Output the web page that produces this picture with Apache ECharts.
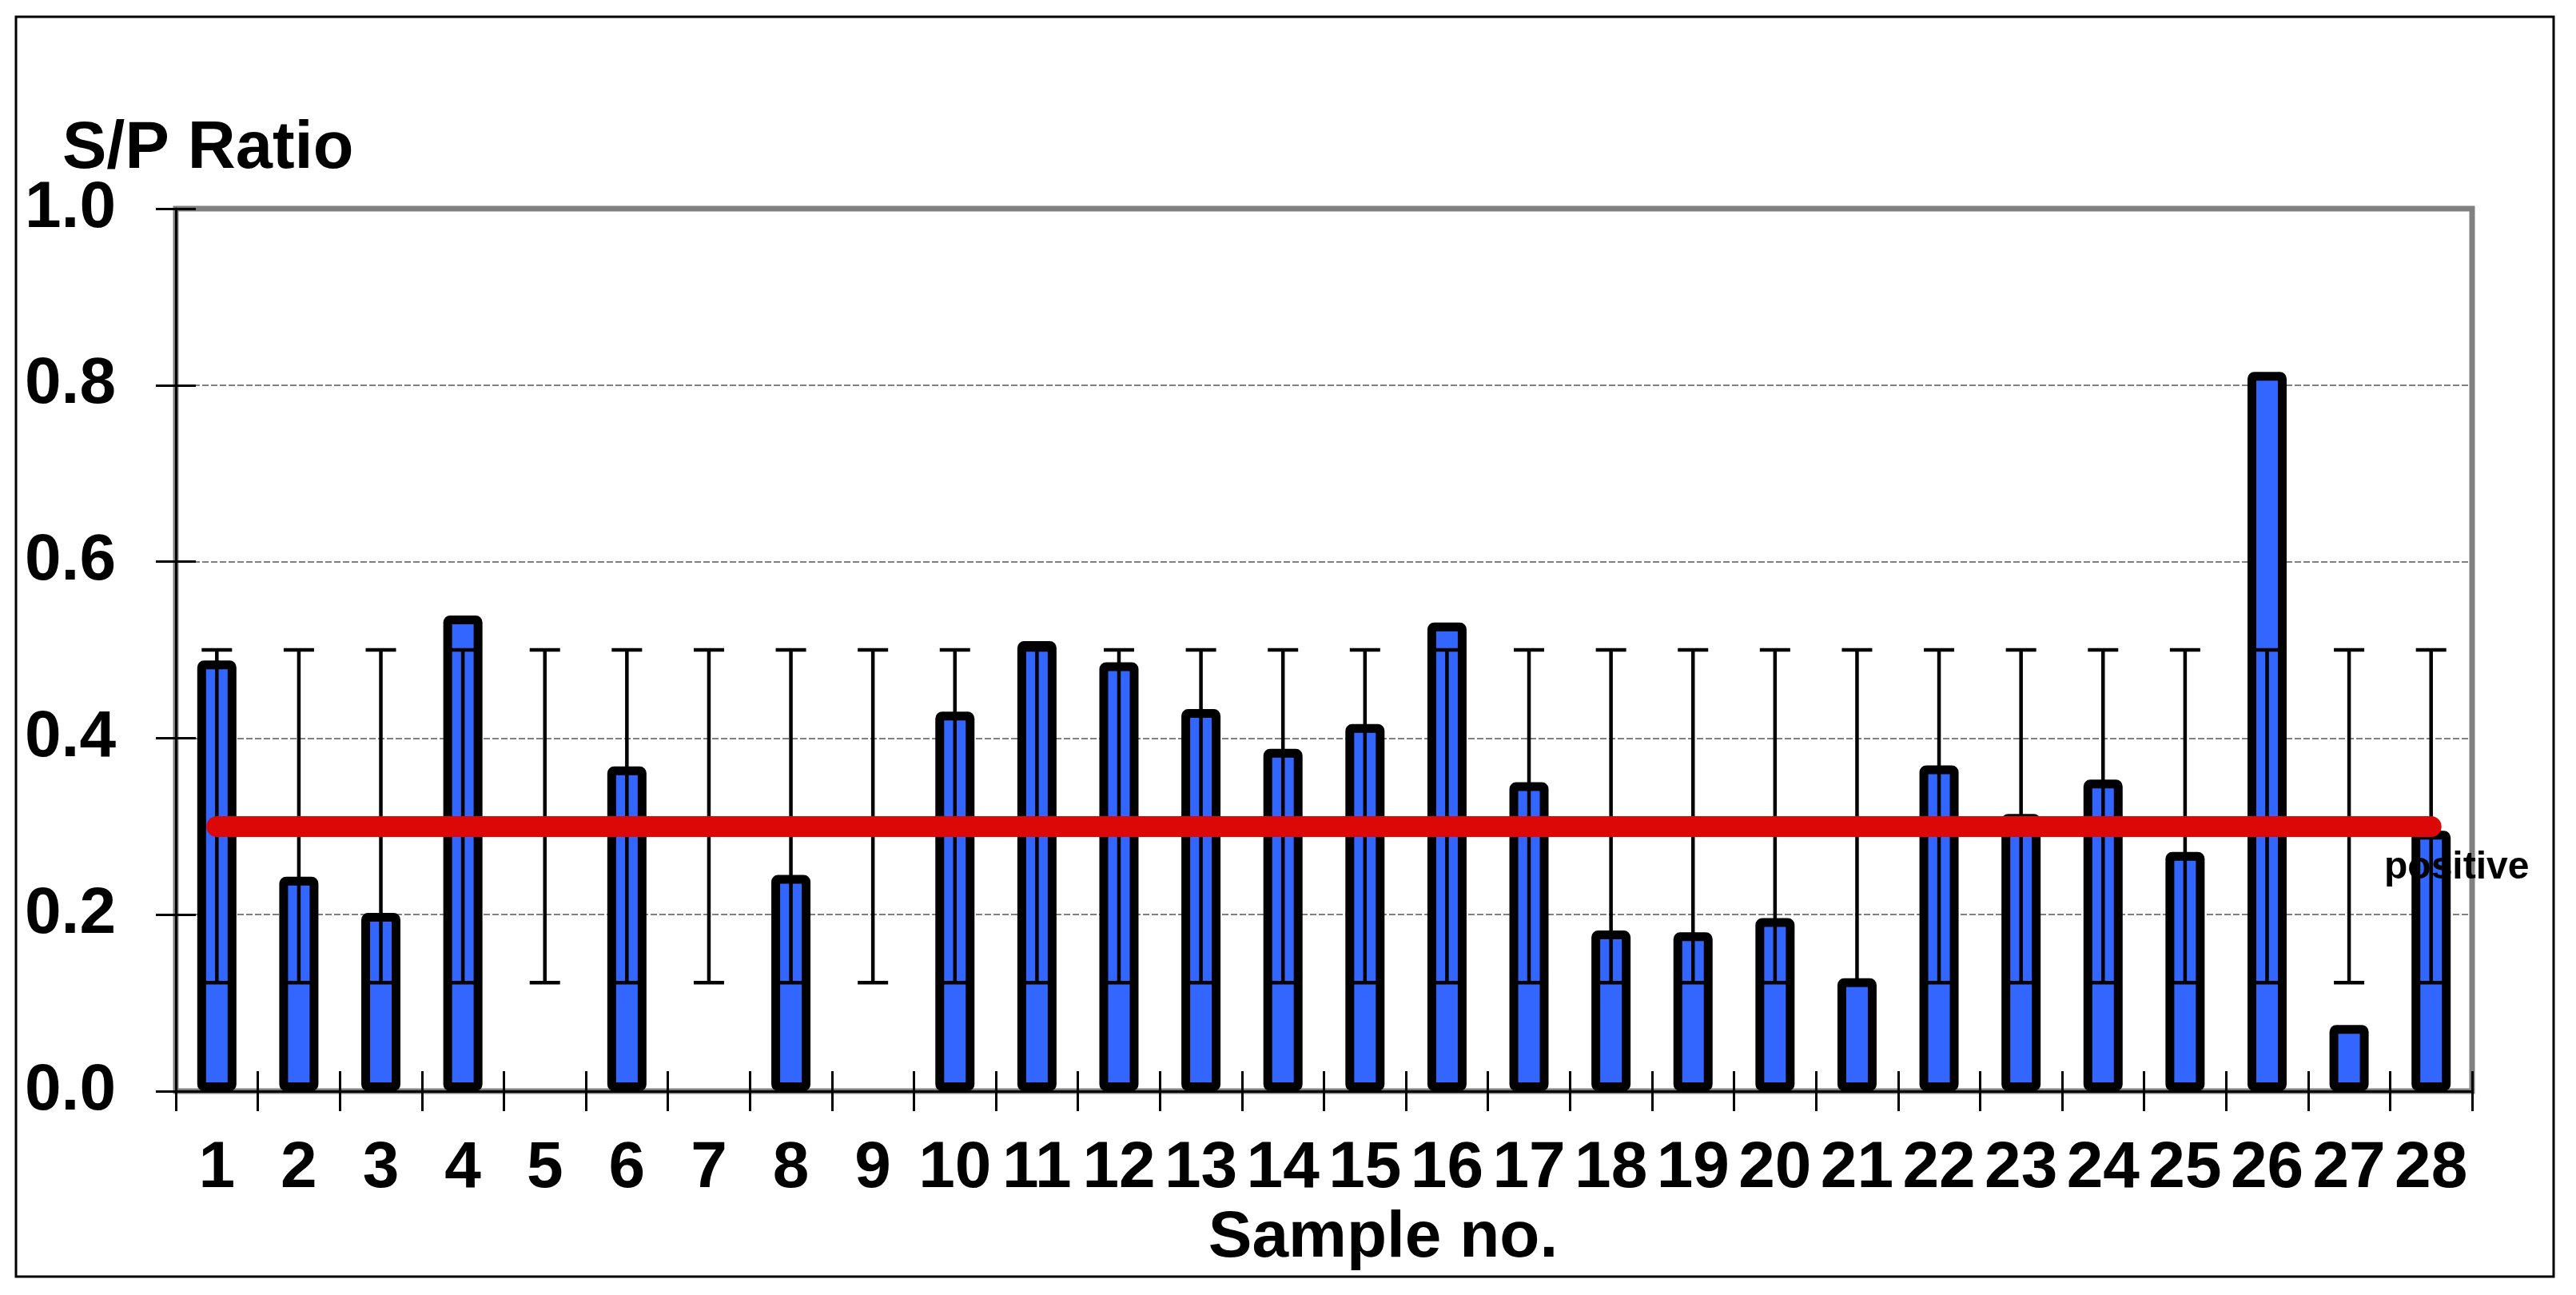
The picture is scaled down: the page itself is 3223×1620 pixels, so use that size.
<!DOCTYPE html>
<html>
<head>
<meta charset="utf-8">
<script src="https://cdn.jsdelivr.net/npm/echarts@6/dist/echarts.min.js"></script>
<style>
  html, body { margin: 0; padding: 0; background: #fff; }
  #main { width: 3223px; height: 1620px; }
</style>
</head>
<body>
<div id="main"></div>
<script>
// sample numbers along the x axis
const samples = ['1', '2', '3', '4', '5', '6', '7', '8', '9', '10', '11', '12', '13', '14',
  '15', '16', '17', '18', '19', '20', '21', '22', '23', '24', '25', '26', '27', '28'];
// S/P ratio per sample (0 = no bar drawn)
const spRatio = [0.488, 0.243, 0.202, 0.539, 0, 0.368, 0, 0.245, 0, 0.430, 0.510, 0.486, 0.433, 0.388,
  0.416, 0.531, 0.350, 0.182, 0.180, 0.196, 0.128, 0.369, 0.314, 0.353, 0.271, 0.815, 0.075, 0.295];
// error bar range per sample
const errLow = [0.123, 0.123, 0.123, 0.123, 0.123, 0.123, 0.123, 0.123, 0.123, 0.123, 0.123, 0.123, 0.123, 0.123,
  0.123, 0.123, 0.123, 0.123, 0.123, 0.123, 0.123, 0.123, 0.123, 0.123, 0.123, 0.123, 0.123, 0.123];
const errHigh = [0.5, 0.5, 0.5, 0.5, 0.5, 0.5, 0.5, 0.5, 0.5, 0.5, 0.5, 0.5, 0.5, 0.5,
  0.5, 0.5, 0.5, 0.5, 0.5, 0.5, 0.5, 0.5, 0.5, 0.5, 0.5, 0.5, 0.5, 0.5];
// positive cut-off
const cutoff = 0.3;
const cutoffLabel = 'positive';

const font = '"Liberation Sans", Arial, sans-serif';

function renderErr(params, api) {
  const x = api.value(0);
  const lo = api.coord([x, api.value(1)]);
  const hi = api.coord([x, api.value(2)]);
  const half = 19;
  const st = { stroke: '#000', lineWidth: 4.5 };
  return {
    type: 'group',
    children: [
      { type: 'line', shape: { x1: lo[0], y1: lo[1], x2: hi[0], y2: hi[1] }, style: st },
      { type: 'line', shape: { x1: hi[0] - half, y1: hi[1], x2: hi[0] + half, y2: hi[1] }, style: st },
      { type: 'line', shape: { x1: lo[0] - half, y1: lo[1], x2: lo[0] + half, y2: lo[1] }, style: st }
    ]
  };
}

const chart = echarts.init(document.getElementById('main'));
chart.setOption({
  backgroundColor: '#fff',
  animation: false,
  title: {
    text: 'S/P Ratio',
    left: 78,
    top: 146,
    padding: 0,
    textStyle: { fontFamily: font, fontSize: 83, fontWeight: 'bold', color: '#000', lineHeight: 83 }
  },
  graphic: [{
    type: 'rect',
    shape: { x: 20, y: 21, width: 3175, height: 1576 },
    style: { fill: null, stroke: '#000', lineWidth: 3 },
    silent: true
  }],
  grid: {
    left: 220, right: 130, top: 261, bottom: 255,
    show: true, borderColor: '#808080', borderWidth: 7, backgroundColor: 'transparent'
  },
  xAxis: [{
    type: 'category',
    data: samples,
    position: 'bottom',
    name: 'Sample no.',
    nameLocation: 'middle',
    nameGap: 132,
    nameTextStyle: { fontFamily: font, fontSize: 82, fontWeight: 'bold', color: '#000', lineHeight: 82, padding: [0, 0, 0, 148] },
    axisLine: { show: true, lineStyle: { color: '#000', width: 3 } },
    axisTick: { show: true, interval: 0, length: 25, lineStyle: { color: '#000', width: 3 } },
    axisLabel: { interval: 0, margin: 56, fontFamily: font, fontSize: 82, fontWeight: 'bold', color: '#000', lineHeight: 82 },
    splitLine: { show: false }
  }, {
    type: 'category',
    data: samples,
    position: 'bottom',
    axisLine: { show: false },
    axisTick: { show: true, inside: true, interval: 0, length: 25, lineStyle: { color: '#000', width: 3 } },
    axisLabel: { show: false },
    splitLine: { show: false }
  }],
  yAxis: [{
    type: 'value',
    min: 0, max: 1, interval: 0.2,
    position: 'left',
    axisLine: { show: true, lineStyle: { color: '#000', width: 3 } },
    axisTick: { show: true, length: 25, lineStyle: { color: '#000', width: 3 } },
    axisLabel: {
      margin: 75, fontFamily: font, fontSize: 82, fontWeight: 'bold', color: '#000',
      formatter: v => v.toFixed(1)
    },
    splitLine: { show: true, lineStyle: { color: '#808080', width: 2, type: [8, 3] } }
  }, {
    type: 'value',
    min: 0, max: 1, interval: 0.2,
    position: 'left',
    axisLine: { show: false },
    axisTick: { show: true, inside: true, length: 25, lineStyle: { color: '#000', width: 3 } },
    axisLabel: { show: false },
    splitLine: { show: false }
  }],
  series: [{
    type: 'bar',
    name: 'S/P Ratio',
    barWidth: 49,
    z: 2,
    itemStyle: { color: '#3366FF', borderColor: '#000', borderWidth: 11, borderRadius: 3 },
    data: spRatio.map(v => v === 0 ? { value: v, itemStyle: { borderWidth: 0 } } : v)
  }, {
    type: 'custom',
    name: 'range',
    z: 3,
    renderItem: renderErr,
    encode: { x: 0, y: [1, 2] },
    data: samples.map((s, i) => [i, errLow[i], errHigh[i]])
  }, {
    type: 'line',
    name: 'cutoff',
    z: 5,
    data: [],
    silent: true,
    markLine: {
      silent: true,
      symbol: ['none', 'none'],
      label: { show: false },
      lineStyle: { color: '#DC0808', width: 26, type: 'solid', cap: 'round' },
      data: [[{ coord: [samples[0], cutoff] }, { coord: [samples[samples.length - 1], cutoff] }]]
    },
    markPoint: {
      silent: true,
      symbol: 'circle',
      symbolSize: 0,
      label: {
        show: true, position: 'inside', offset: [32, 52], formatter: cutoffLabel,
        fontFamily: font, fontSize: 48, fontWeight: 'bold', color: '#000'
      },
      data: [{ coord: [samples[samples.length - 1], cutoff] }]
    }
  }]
});
</script>
</body>
</html>
